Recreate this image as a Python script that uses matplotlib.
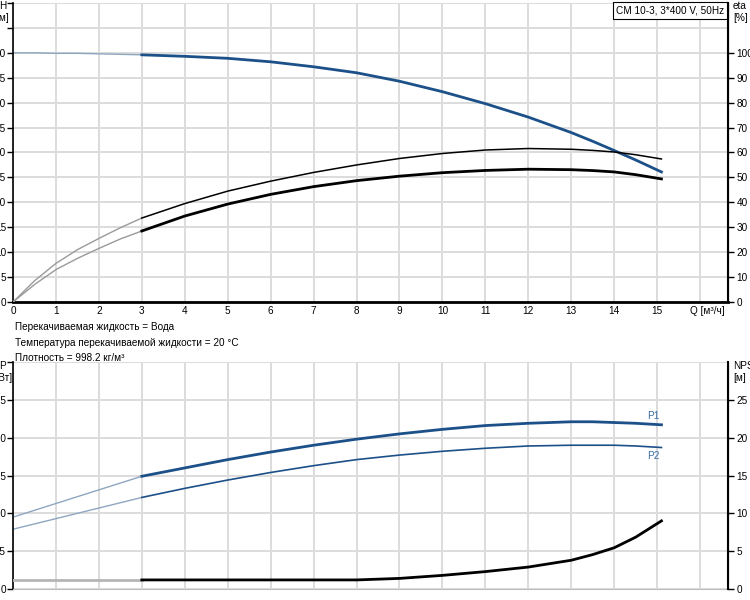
import numpy as np
import matplotlib
matplotlib.use("Agg")
import matplotlib.pyplot as plt

plt.rcParams['font.family'] = ['Liberation Sans', 'DejaVu Sans']
plt.rcParams['font.size'] = 7.2

# ---- data ----
Q_start = [0, 0.5, 1, 1.5, 2, 2.5, 3]
Q_main = [3, 4, 5, 6, 7, 8, 9, 10, 11, 12, 13, 13.5, 14, 14.5, 15.1]

H_start = [50.0, 50.0, 49.9, 49.9, 49.8, 49.7, 49.6]
H_main = [49.6, 49.3, 48.9, 48.2, 47.2, 46.0, 44.3, 42.2, 39.8, 37.1, 34.0, 32.25, 30.4, 28.5, 26.1]

eta1_start = [0, 8.5, 15.5, 21.0, 25.5, 29.8, 33.7]
eta1_main = [33.7, 39.5, 44.5, 48.5, 52.0, 55.0, 57.6, 59.6, 61.0, 61.6, 61.3, 60.85, 60.2, 59.1, 57.4]
eta2_start = [0, 7.0, 13.0, 17.5, 21.5, 25.3, 28.5]
eta2_main = [28.5, 34.5, 39.3, 43.2, 46.3, 48.7, 50.5, 51.9, 52.8, 53.3, 53.1, 52.75, 52.2, 51.1, 49.4]

Q_p_start = [0, 3]
P1_start = [0.95, 1.49]
P1_main = [1.49, 1.60, 1.71, 1.81, 1.90, 1.98, 2.05, 2.11, 2.16, 2.19, 2.21, 2.21, 2.20, 2.19, 2.17]
P2_start = [0.79, 1.21]
P2_main = [1.21, 1.33, 1.44, 1.54, 1.63, 1.71, 1.77, 1.82, 1.86, 1.89, 1.90, 1.90, 1.90, 1.89, 1.87]
NPSH_start = [1.2, 1.2]
NPSH_main = [1.2, 1.2, 1.2, 1.2, 1.2, 1.2, 1.4, 1.8, 2.3, 2.9, 3.8, 4.55, 5.45, 6.85, 9.0]

x_ticks = list(range(0, 17))
x_labels = [str(i) for i in range(16)] + ['']
q_label = 'Q [м³/ч]'
info_lines = ["Перекачиваемая жидкость = Вода",
              "Температура перекачиваемой жидкости = 20 °C",
              "Плотность = 998.2 кг/м³"]
title_box = "CM 10-3, 3*400 V, 50Hz"

BLUE = '#1c5088'
LBLUE = '#8fa6c0'
GREY = '#9a9a9a'
GRID = '#dcdcdc'
XMAX = 16.65

fig = plt.figure(figsize=(7.5, 6), dpi=100)

def style(ax, ax2):
    ax.set_xlim(0, XMAX)
    ax.set_xticks(x_ticks)
    ax.grid(True, color=GRID, lw=1.4)
    ax.set_axisbelow(True)
    ax.spines['top'].set_visible(False)
    ax2.spines['top'].set_visible(False)
    ax.spines['left'].set_linewidth(1.2)
    ax2.spines['right'].set_linewidth(1.5)
    ax2.spines['left'].set_visible(False)
    ax2.spines['bottom'].set_visible(False)
    ax.tick_params(axis='y', length=4, width=1, pad=1)
    ax2.tick_params(axis='y', length=4, width=1, pad=2)
    ax.tick_params(axis='x', length=0, pad=3)

# ---- top: H and eta ----
ax = fig.add_axes([13/750, 1-302/600, 715/750, 299/600])
ax2 = ax.twinx()
style(ax, ax2)
ax.set_ylim(0, 60)
ax.set_yticks(np.arange(0, 61, 5))
ax.set_yticklabels([str(v) if v <= 50 else '' for v in range(0, 61, 5)])
ax2.set_ylim(0, 120)
ax2.set_yticks(np.arange(0, 101, 10))
ax.set_xticklabels(x_labels)
ax.spines['bottom'].set_linewidth(2)
ax.annotate(q_label, xy=(16, 0), xycoords=('data', 'axes fraction'),
            xytext=(5, -3), textcoords='offset points', ha='center', va='top')

ax.plot(Q_start, H_start, color=LBLUE, lw=1)
ax.plot(Q_main, H_main, color=BLUE, lw=2)
ax2.plot(Q_start, eta1_start, color=GREY, lw=1)
ax2.plot(Q_main, eta1_main, color='black', lw=1.1)
ax2.plot(Q_start, eta2_start, color=GREY, lw=1)
ax2.plot(Q_main, eta2_main, color='black', lw=2)

fig.text(3/750, 1-12/600, "H\n[м]", ha='center', va='center', linespacing=1.3)
fig.text(733/750, 1-12/600, "eta\n[%]", ha='left', va='center', linespacing=1.3)
ax.text(0.995, 0.993, title_box, transform=ax.transAxes, ha='right', va='top',
        bbox=dict(boxstyle='square,pad=0.35', fc='white', ec='black', lw=0.8))

for i, line in enumerate(info_lines):
    fig.text(15/750, 1-(327 + 15.5*i)/600, line, ha='left', va='center')

# ---- bottom: P1, P2 and NPSH ----
bx = fig.add_axes([13/750, 1-589/600, 715/750, 227/600])
bx2 = bx.twinx()
style(bx, bx2)
bx.set_ylim(0, 3)
bx.set_yticks(np.arange(0, 3.01, 0.5))
bx.set_yticklabels(['0', '0.5', '1.0', '1.5', '2.0', '2.5', ''])
bx2.set_ylim(0, 30)
bx2.set_yticks(np.arange(0, 26, 5))
bx.set_xticklabels([])
bx.spines['bottom'].set_color('#bdbdbd')

bx.plot(Q_p_start, P1_start, color=LBLUE, lw=1)
bx.plot(Q_main, P1_main, color=BLUE, lw=2)
bx.plot(Q_p_start, P2_start, color=LBLUE, lw=1)
bx.plot(Q_main, P2_main, color=BLUE, lw=1.2)
bx2.plot(Q_p_start, NPSH_start, color='#b5b5b5', lw=2)
bx2.plot(Q_main, NPSH_main, color='black', lw=2)

bx.text(Q_main[-1] - 0.05, P1_main[-1] + 0.05, "P1", color='#3a6ea5', ha='right', va='bottom')
bx.text(Q_main[-1] - 0.05, P2_main[-1] - 0.05, "P2", color='#3a6ea5', ha='right', va='top')
fig.text(2/750, 1-372/600, "P\n[кВт]", ha='center', va='center', linespacing=1.3)
fig.text(733/750, 1-372/600, "NPSH\n[м]", ha='left', va='center', linespacing=1.3)

fig.savefig("out.png", dpi=100)
